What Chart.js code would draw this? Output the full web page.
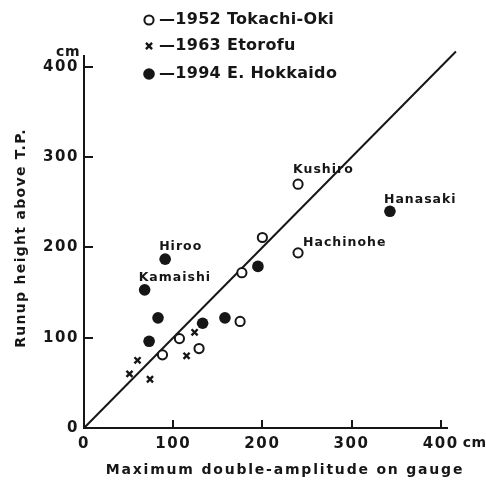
<!DOCTYPE html>
<html>
<head>
<meta charset="utf-8">
<script src="https://cdn.jsdelivr.net/npm/chart.js@4/dist/chart.umd.min.js"></script>
<style>
  html, body { margin: 0; padding: 0; background: #fff; }
  #wrap { width: 486px; height: 480px; position: relative; }
</style>
</head>
<body>
<div id="wrap"><canvas id="c" width="486" height="480"></canvas></div>
<script>
// ---- data ----
const xTicks = [0, 100, 200, 300, 400];
const yTicks = [0, 100, 200, 300, 400];
const xTitle = 'Maximum double-amplitude on gauge';
const yTitle = 'Runup height above T.P.';
const unitLabel = 'cm';

const seriesLabels = ['1952 Tokachi-Oki', '1963 Etorofu', '1994 E. Hokkaido'];

const tokachiX = [240, 240, 200, 177, 175, 107, 129, 88];
const tokachiY = [270, 194, 211, 172, 118, 99, 88, 81];
const tokachiNames = ['Kushiro', 'Hachinohe', '', '', '', '', '', ''];

const etorofuX = [124, 115, 60, 51, 74];
const etorofuY = [106, 80, 75, 60, 54];
const etorofuNames = ['', '', '', '', ''];

const hokkaidoX = [343, 195, 91, 68, 83, 133, 158, 73];
const hokkaidoY = [240, 179, 187, 153, 122, 116, 122, 96];
const hokkaidoNames = ['Hanasaki', '', 'Hiroo', 'Kamaishi', '', '', '', ''];

const refLineX = [0, 417];
const refLineY = [0, 417];

// ---- styles (not data) ----
const INK = '#161616';
const labelStyle = {
  Kushiro:   { dx: -5, dy: -14 },
  Hachinohe: { dx: 5,  dy: -10 },
  Hanasaki:  { dx: -6, dy: -12 },
  Hiroo:     { dx: -6, dy: -12 },
  Kamaishi:  { dx: -6, dy: -12 }
};
const FONT = '"DejaVu Sans", sans-serif';

function pts(xs, ys) { return xs.map((x, i) => ({ x: x, y: ys[i] })); }

const datasets = [
  { label: seriesLabels[0], data: pts(tokachiX, tokachiY), names: tokachiNames,
    pointStyle: 'circle', pointRadius: 4.6, pointBackgroundColor: '#fff',
    pointBorderColor: INK, pointBorderWidth: 2, showLine: false },
  { label: seriesLabels[1], data: pts(etorofuX, etorofuY), names: etorofuNames,
    pointStyle: 'crossRot', pointRadius: 4.3, pointBackgroundColor: INK,
    pointBorderColor: INK, pointBorderWidth: 2.4, showLine: false },
  { label: seriesLabels[2], data: pts(hokkaidoX, hokkaidoY), names: hokkaidoNames,
    pointStyle: 'circle', pointRadius: 5.8, pointBackgroundColor: INK,
    pointBorderColor: INK, pointBorderWidth: 0, showLine: false },
  { label: 'ref', data: pts(refLineX, refLineY), showLine: true,
    borderColor: INK, borderWidth: 2, pointRadius: 0, clip: false, isRef: true }
];

function spacedText(ctx, txt, x, y, spacing) {
  ctx.letterSpacing = spacing + 'px';
  ctx.fillText(txt, x, y);
}

const decor = {
  id: 'decor',
  beforeDraw(chart) {
    chart.ctx.letterSpacing = '1.6px';
  },
  afterDraw(chart) {
    const ctx = chart.ctx;
    const xs = chart.scales.x, ys = chart.scales.y;
    const area = chart.chartArea;
    ctx.save();
    ctx.strokeStyle = INK;
    ctx.fillStyle = INK;
    // inward tick marks
    ctx.lineWidth = 2;
    xTicks.forEach(v => {
      if (v === 0) return;
      const px = Math.round(xs.getPixelForValue(v));
      ctx.beginPath(); ctx.moveTo(px, area.bottom); ctx.lineTo(px, area.bottom - 8); ctx.stroke();
    });
    yTicks.forEach(v => {
      if (v === 0) return;
      const py = Math.round(ys.getPixelForValue(v));
      ctx.beginPath(); ctx.moveTo(area.left, py); ctx.lineTo(area.left + 9, py); ctx.stroke();
    });
    // unit labels
    ctx.font = 'bold 14px ' + FONT;
    ctx.textBaseline = 'middle';
    ctx.textAlign = 'left';
    const x400 = xs.getPixelForValue(xTicks[xTicks.length - 1]);
    spacedText(ctx, unitLabel, x400 + 22, area.bottom + 15, 0.5);
    const y400 = ys.getPixelForValue(yTicks[yTicks.length - 1]);
    ctx.textAlign = 'right';
    spacedText(ctx, unitLabel, area.left - 4, y400 - 14, 0.5);

    // axis titles
    ctx.font = 'bold 14px ' + FONT;
    ctx.textAlign = 'center';
    spacedText(ctx, xTitle, 285, 470, 1.8);
    ctx.save();
    ctx.translate(21, 238);
    ctx.rotate(-Math.PI / 2);
    spacedText(ctx, yTitle, 0, 0, 1.3);
    ctx.restore();

    // point name labels
    ctx.font = 'bold 12.5px ' + FONT;
    ctx.textAlign = 'left';
    ctx.textBaseline = 'middle';
    chart.data.datasets.forEach((ds, di) => {
      if (!ds.names) return;
      const meta = chart.getDatasetMeta(di);
      ds.names.forEach((n, i) => {
        if (!n) return;
        const el = meta.data[i];
        const st = labelStyle[n] || { dx: 0, dy: -12 };
        spacedText(ctx, n, el.x + st.dx, el.y + st.dy, 1);
      });
    });

    // legend
    const rows = [20, 46, 74];
    ctx.font = 'bold 16px ' + FONT;
    ctx.textAlign = 'left';
    ctx.textBaseline = 'middle';
    chart.data.datasets.forEach((ds, di) => {
      if (ds.isRef) return;
      const y = rows[di];
      ctx.letterSpacing = '0px';
      ctx.fillStyle = ds.pointBackgroundColor;
      ctx.strokeStyle = ds.pointBorderColor;
      ctx.lineWidth = ds.pointBorderWidth;
      Chart.helpers.drawPoint(ctx, {
        pointStyle: ds.pointStyle, radius: ds.pointRadius, rotation: 0,
        borderWidth: ds.pointBorderWidth
      }, 149, y);
      ctx.fillStyle = INK;
      spacedText(ctx, '\u2014' + ds.label, 159, y, 0.3);
    });
    ctx.restore();
  }
};

new Chart(document.getElementById('c'), {
  type: 'scatter',
  data: { datasets: datasets },
  options: {
    responsive: false,
    animation: false,
    layout: { padding: { top: 56, right: 39, bottom: 0, left: 0 } },
    plugins: { legend: { display: false }, tooltip: { enabled: false } },
    scales: {
      x: {
        type: 'linear', min: 0, max: 407,
        afterBuildTicks: s => { s.ticks = xTicks.map(v => ({ value: v })); },
        afterFit: s => { s.height = 52; },
        grid: { drawOnChartArea: false, drawTicks: false },
        border: { display: true, color: INK, width: 2 },
        ticks: { color: INK, padding: 7, maxRotation: 0, autoSkip: false,
                 font: { family: FONT, size: 15, weight: 'bold' } }
      },
      y: {
        type: 'linear', min: 0, max: 412,
        afterBuildTicks: s => { s.ticks = yTicks.map(v => ({ value: v })); },
        afterFit: s => { s.width = 84; },
        grid: { drawOnChartArea: false, drawTicks: false },
        border: { display: true, color: INK, width: 2 },
        ticks: { color: INK, padding: 5, autoSkip: false,
                 font: { family: FONT, size: 15, weight: 'bold' } }
      }
    }
  },
  plugins: [decor]
});
</script>
</body>
</html>
